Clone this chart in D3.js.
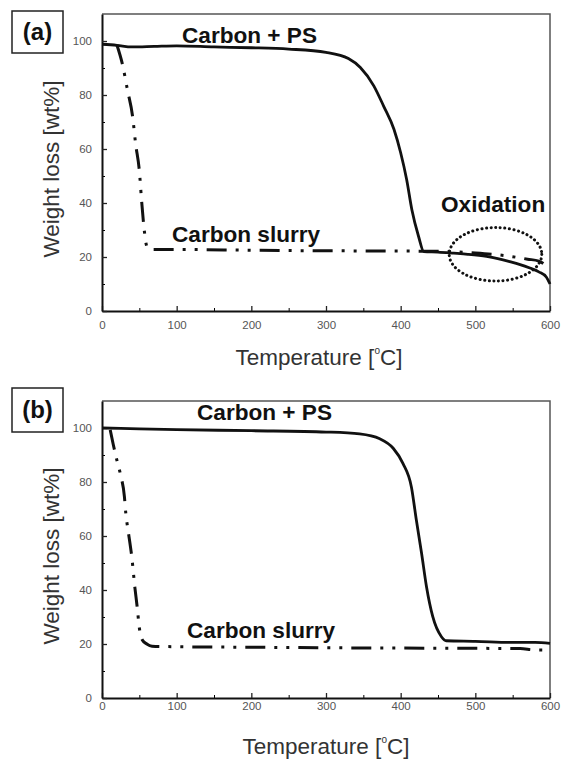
<!DOCTYPE html>
<html>
<head>
<meta charset="utf-8">
<script src="https://d3js.org/d3.v7.min.js"></script>
<style>
  body { margin: 0; background: #fff; }
  svg { display: block; font-family: "Liberation Sans", Arial, sans-serif; }
</style>
</head>
<body>
<div id="chart"></div>
<script>

// TGA curves

// panel (a)
const psTempA = [0, 20, 40, 70, 100, 150, 200, 250, 300, 330, 346, 364, 377, 391, 400, 408, 415, 424, 431, 450, 471, 490, 515, 530, 546, 560, 573, 585, 595, 600];
const psWeightA = [98.8, 98.4, 97.8, 98.0, 98.2, 97.8, 97.5, 97.0, 95.8, 93.5, 90.2, 83.4, 76.0, 67.3, 58.6, 48.7, 37.5, 27.6, 22.0, 21.8, 21.4, 21.0, 20.2, 19.4, 18.3, 17.2, 15.9, 14.5, 12.6, 10.0];
const slurryTempA = [20, 28, 34, 41, 45, 50, 53, 57, 60, 65, 100, 200, 300, 400, 450, 500, 540, 570, 585, 600];
const slurryWeightA = [98.5, 90.6, 82, 72, 62, 52, 41, 29, 24, 22.8, 22.8, 22.5, 22.3, 22.2, 22.1, 21.5, 20.5, 19.2, 18.5, 15.5];

// panel (b)
const psTempB = [0, 50, 100, 200, 300, 345, 372, 390, 403, 414.5, 421, 428, 434.6, 443, 454.6, 461, 500, 550, 580, 600];
const psWeightB = [100, 99.7, 99.4, 99.0, 98.5, 97.8, 96.0, 92.5, 86.9, 78.0, 65.9, 53.6, 41.2, 30.1, 22.7, 21.2, 21.0, 20.6, 20.6, 20.2];
const slurryTempB = [11, 15, 20, 25, 30, 32, 35, 40, 44, 47, 50, 54, 60, 67, 100, 200, 300, 400, 500, 560, 580, 600];
const slurryWeightB = [99.3, 94, 88, 82.5, 74.6, 68, 62, 52, 41, 34, 26, 21.5, 20, 19.2, 19, 18.8, 18.6, 18.5, 18.4, 18.3, 17.8, 17.8];

// axis ticks
const xTicks = [0, 100, 200, 300, 400, 500, 600];
const xMinor = [50, 150, 250, 350, 450, 550];
const yTicks = [0, 20, 40, 60, 80, 100];
const yMinor = [10, 30, 50, 70, 90];

// oxidation region marked in (a): centre temp, centre weight, half widths
const oxRegion = {t: 527, w: 21, dt: 62, dw: 9.9};

const width = 563;
const height = 760;
const labelSize = 22.6;

const svg = d3.select("#chart")
  .append("svg")
  .attr("width", width)
  .attr("height", height);

// draws one panel, top is the y of the plot frame
function drawPanel(opt) {
  const g = svg.append("g");

  const x = d3.scaleLinear().domain([0, 600]).range([102, 550]);
  const y = d3.scaleLinear().domain([0, 110]).range([opt.top + 297, opt.top]);

  // top and right frame
  g.append("path")
    .attr("d", `M${x(0)},${y(110)}H${x(600)}V${y(0)}`)
    .attr("fill", "none")
    .attr("stroke", "#555")
    .attr("stroke-width", 1.5);

  // minor ticks first so the axes lie on top
  g.append("g")
    .attr("transform", `translate(0,${y(0)})`)
    .call(d3.axisBottom(x).tickValues(xMinor).tickSize(-3).tickFormat(""))
    .call(a => a.select(".domain").remove());
  g.append("g")
    .attr("transform", `translate(${x(0)},0)`)
    .call(d3.axisLeft(y).tickValues(yMinor).tickSize(-3).tickFormat(""))
    .call(a => a.select(".domain").remove());

  const xAxis = g.append("g")
    .attr("transform", `translate(0,${y(0)})`)
    .call(d3.axisBottom(x).tickValues(xTicks).tickSize(-5).tickSizeOuter(0).tickPadding(opt.xPad));
  const yAxis = g.append("g")
    .attr("transform", `translate(${x(0)},0)`)
    .call(d3.axisLeft(y).tickValues(yTicks).tickSize(-5).tickSizeOuter(0).tickPadding(10));

  [xAxis, yAxis].forEach(a => {
    a.attr("font-family", "Liberation Sans, Arial, sans-serif")
      .attr("font-size", 11.5);
    a.selectAll("text").attr("fill", "#555");
    a.select(".domain").attr("stroke", "#111").attr("stroke-width", 2);
    a.selectAll(".tick line").attr("stroke", "#222").attr("stroke-width", 1.3);
  });

  const line = d3.line()
    .x(d => x(d[0]))
    .y(d => y(d[1]))
    .curve(d3.curveMonotoneX);

  // Carbon slurry, dash-dot-dot
  g.append("path")
    .datum(d3.zip(opt.slurryT, opt.slurryW))
    .attr("d", line)
    .attr("fill", "none")
    .attr("stroke", "#111")
    .attr("stroke-width", 3)
    .attr("stroke-dasharray", "20,9,3,9,3,9");

  // Carbon + PS, solid
  g.append("path")
    .datum(d3.zip(opt.psT, opt.psW))
    .attr("d", line)
    .attr("fill", "none")
    .attr("stroke", "#111")
    .attr("stroke-width", 2.8);

  // panel letter in a box
  g.append("rect")
    .attr("x", 12).attr("y", opt.box[0])
    .attr("width", 51).attr("height", opt.box[1])
    .attr("fill", "none")
    .attr("stroke", "#222")
    .attr("stroke-width", 1.5);
  g.append("text")
    .attr("x", 37.5).attr("y", opt.box[0] + opt.box[1] / 2 + 8)
    .attr("text-anchor", "middle")
    .attr("font-size", 24)
    .attr("font-weight", "bold")
    .attr("fill", "#111")
    .text(opt.letter);

  // curve labels
  g.append("text")
    .attr("x", opt.psLabel[0]).attr("y", opt.psLabel[1])
    .attr("font-size", labelSize)
    .attr("font-weight", "bold")
    .attr("fill", "#111")
    .text("Carbon + PS");
  g.append("text")
    .attr("x", opt.slurryLabel[0]).attr("y", opt.slurryLabel[1])
    .attr("font-size", labelSize)
    .attr("font-weight", "bold")
    .attr("fill", "#111")
    .text("Carbon slurry");

  // axis titles
  g.append("text")
    .attr("transform", `translate(59,${y(0) - 142}) rotate(-90)`)
    .attr("text-anchor", "middle")
    .attr("font-size", 22.5)
    .attr("fill", "#333")
    .text("Weight loss [wt%]");

  const xt = g.append("text")
    .attr("x", opt.xTitle[0]).attr("y", opt.xTitle[1])
    .attr("text-anchor", "middle")
    .attr("font-size", 22.5)
    .attr("fill", "#333");
  xt.append("tspan").text("Temperature [");
  xt.append("tspan").attr("font-size", 10).attr("dy", -11).text("o");
  xt.append("tspan").attr("dy", 11).text("C]");

  return {g, x, y};
}

const pa = drawPanel({
  top: 14, letter: "(a)", box: [11, 42], xPad: 10,
  psT: psTempA, psW: psWeightA, slurryT: slurryTempA, slurryW: slurryWeightA,
  psLabel: [182, 43], slurryLabel: [172, 242], xTitle: [319, 365]
});

const pb = drawPanel({
  top: 401, letter: "(b)", box: [388, 44], xPad: 4,
  psT: psTempB, psW: psWeightB, slurryT: slurryTempB, slurryW: slurryWeightB,
  psLabel: [197, 420], slurryLabel: [187, 638], xTitle: [326, 754]
});

// oxidation ellipse and label, panel (a) only
pa.g.append("ellipse")
  .attr("cx", pa.x(oxRegion.t))
  .attr("cy", pa.y(oxRegion.w))
  .attr("rx", pa.x(oxRegion.t + oxRegion.dt) - pa.x(oxRegion.t))
  .attr("ry", pa.y(oxRegion.w - oxRegion.dw) - pa.y(oxRegion.w))
  .attr("fill", "none")
  .attr("stroke", "#111")
  .attr("stroke-width", 3)
  .attr("stroke-linecap", "round")
  .attr("stroke-dasharray", "0.1,4.5");

pa.g.append("text")
  .attr("x", 441).attr("y", 212)
  .attr("font-size", labelSize)
  .attr("font-weight", "bold")
  .attr("fill", "#111")
  .text("Oxidation");

</script>
</body>
</html>
